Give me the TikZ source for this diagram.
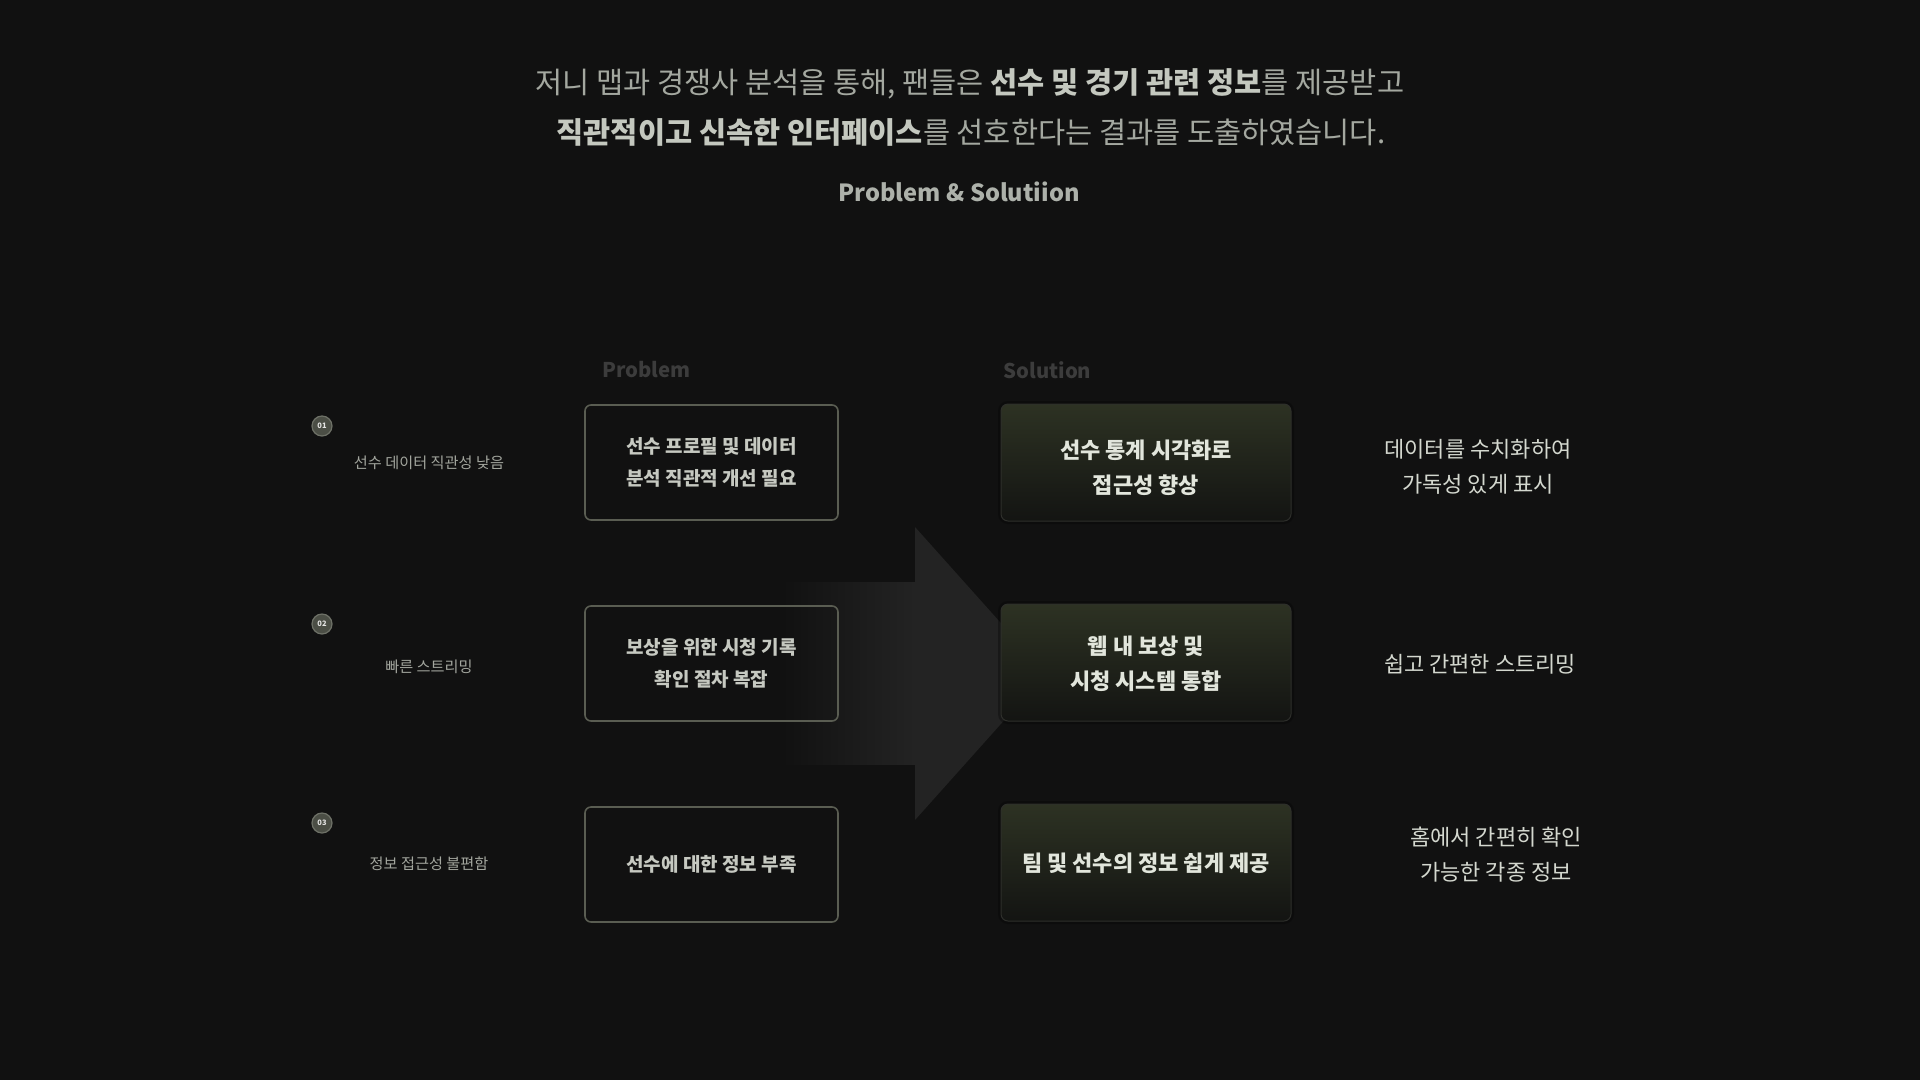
\documentclass[tikz,border=0pt]{standalone}
\usepackage{fontspec}
\setmainfont{Noto Sans CJK KR}
\definecolor{bg}{HTML}{111111}
\definecolor{titlereg}{HTML}{A4A8A0}
\definecolor{titlebold}{HTML}{C4C8BF}
\definecolor{headgray}{HTML}{3C3C3C}
\definecolor{probborder}{HTML}{5A5D52}
\definecolor{probtext}{HTML}{C6C9C1}
\definecolor{soltop}{HTML}{2D3223}
\definecolor{solbot}{HTML}{131412}
\definecolor{solborder}{HTML}{2E2F2B}
\definecolor{soltext}{HTML}{E2E6DC}
\definecolor{righttext}{HTML}{D4D8CF}
\definecolor{lefttext}{HTML}{A3A69E}
\definecolor{circfill}{HTML}{4B4E45}
\definecolor{circline}{HTML}{6E7167}
\definecolor{arrowdark}{HTML}{111111}
\definecolor{arrowlight}{HTML}{232323}
\tikzset{
  probbox/.style={draw=probborder, line width=1.6pt, rounded corners=6pt,
    minimum width=253pt, minimum height=115pt, inner sep=0pt, align=center,
    text=probtext, font=\fontsize{19}{32}\selectfont\bfseries},
  solbox/.style={draw=solborder, line width=1pt, rounded corners=7pt,
    top color=soltop, bottom color=solbot,
    preaction={draw=black!70!bg, line width=6pt, opacity=0.35},
    minimum width=290pt, minimum height=117pt, inner sep=0pt},
  soltxt/.style={align=center, text=soltext, font=\fontsize{22}{35}\selectfont\bfseries},
  righttxt/.style={align=center, text=righttext, font=\fontsize{22}{35}\selectfont},
  lefttxt/.style={align=center, text=lefttext, font=\fontsize{15.2}{20}\selectfont},
  numcirc/.style={circle, draw=circline, line width=1.2pt, fill=circfill,
    minimum size=20pt, inner sep=0pt, text=white!85!circfill,
    font=\fontsize{7.5}{8}\selectfont\bfseries},
  colhead/.style={anchor=west, text=headgray, font=\fontsize{20.3}{26}\selectfont\bfseries},
}
\begin{document}
\begin{tikzpicture}[x=1pt,y=-1pt]
\useasboundingbox (0,0) rectangle (1920,1080);
\fill[bg] (0,0) rectangle (1920,1080);

% title
\node[font=\fontsize{29.5}{34}\selectfont, text=titlereg] (t1) at (970,84)
  {저니 맵과 경쟁사 분석을 통해, 팬들은 \textcolor{titlebold}{\bfseries 선수 및 경기 관련 정보}를 제공받고};
\node[font=\fontsize{29.5}{34}\selectfont, text=titlereg] (t2) at (971,132)
  {\textcolor{titlebold}{\bfseries 직관적이고 신속한 인터페이스}를 선호한다는 결과를 도출하였습니다.};
\node[font=\fontsize{23.6}{30}\selectfont\bfseries, text=titlereg!90!white] (t3) at (959,192)
  {Problem \& Solutiion};

% column heads
\node[colhead] (hp) at (599,370) {Problem};
\node[colhead] (hs) at (1000,370) {Solution};

% big arrow
\shade[left color=arrowdark, right color=arrowlight]
  (782,582) -- (915,582) -- (915,764) -- (782,764) -- cycle;
\fill[arrowlight] (915,582) -- (915,527) -- (1046,673.5) -- (915,820) -- (915,764) -- cycle;

% numbers and left labels
\node[numcirc] (n1) at (322,426) {01};
\node[numcirc] (n2) at (322,624) {02};
\node[numcirc] (n3) at (322,823) {03};
\node[lefttxt] (l1) at (429,463) {선수 데이터 직관성 낮음};
\node[lefttxt] (l2) at (429,667) {빠른 스트리밍};
\node[lefttxt] (l3) at (429,864) {정보 접근성 불편함};

% problem boxes
\node[probbox] (p1) at (711.5,462.5) {선수 프로필 및 데이터\\분석 직관적 개선 필요};
\node[probbox] (p2) at (711.5,663.5) {보상을 위한 시청 기록\\확인 절차 복잡};
\node[probbox] (p3) at (711.5,864.5) {선수에 대한 정보 부족};

% solution boxes
\node[solbox] (s1) at (1146,462.5) {};
\node[solbox] (s2) at (1146,662.5) {};
\node[solbox] (s3) at (1146,862.5) {};
\node[soltxt] (s1t) at ([yshift=-5.5pt]s1.center) {선수 통계 시각화로\\접근성 향상};
\node[soltxt] (s2t) at ([yshift=-1.5pt]s2.center) {웹 내 보상 및\\시청 시스템 통합};
\node[soltxt] (s3t) at ([yshift=-1pt]s3.center) {팀 및 선수의 정보 쉽게 제공};

% right texts
\node[righttxt] (r1) at (1478,467) {데이터를 수치화하여\\가독성 있게 표시};
\node[righttxt] (r2) at (1480,664) {쉽고 간편한 스트리밍};
\node[righttxt] (r3) at (1496,855) {홈에서 간편히 확인\\가능한 각종 정보};
\end{tikzpicture}
\end{document}
